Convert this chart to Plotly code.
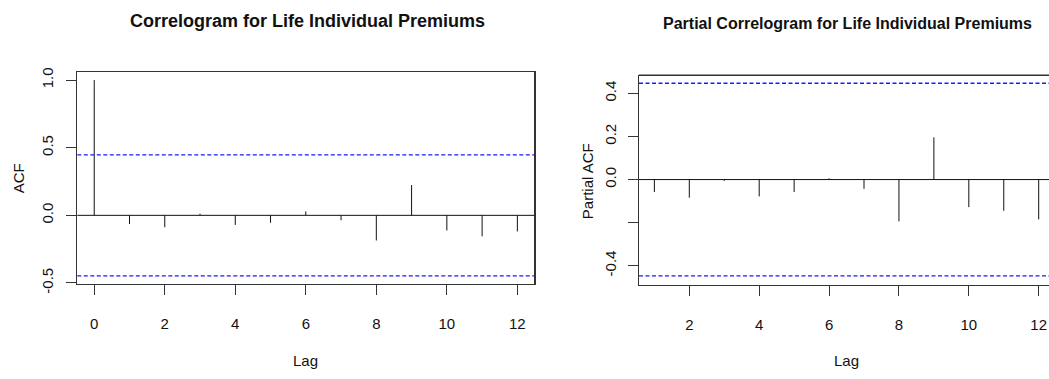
import plotly.graph_objects as go

# ---- data ----
acf_lags = [0, 1, 2, 3, 4, 5, 6, 7, 8, 9, 10, 11, 12]
acf_vals = [1.0, -0.064, -0.088, 0.012, -0.071, -0.055, 0.029, -0.036, -0.186, 0.224, -0.112, -0.155, -0.119]
pacf_lags = [1, 2, 3, 4, 5, 6, 7, 8, 9, 10, 11, 12]
pacf_vals = [-0.058, -0.084, -0.006, -0.078, -0.058, 0.006, -0.043, -0.194, 0.196, -0.128, -0.145, -0.185]
conf_limit = 0.447

x_ticks = [0, 2, 4, 6, 8, 10, 12]
acf_yticks = [-0.5, 0.0, 0.5, 1.0]
acf_yticklabels = ["-0.5", "0.0", "0.5", "1.0"]
pacf_yticks = [-0.4, -0.2, 0.0, 0.2, 0.4]
pacf_yticklabels = ["-0.4", "", "0.0", "0.2", "0.4"]

title_left = "Correlogram for Life Individual Premiums"
title_right = "Partial Correlogram for Life Individual Premiums"

FONT = "Liberation Sans Narrow, Arial Narrow, Liberation Sans, Arial, sans-serif"

W, H = 1049, 379


def px_x(x):
    return x / W


def px_y(y):
    return 1 - y / H


def spikes(lags, vals):
    xs, ys = [], []
    for l, v in zip(lags, vals):
        xs += [l, l, None]
        ys += [0, v, None]
    return xs, ys


fig = go.Figure()

xa, ya = spikes(acf_lags, acf_vals)
fig.add_trace(go.Scatter(x=xa, y=ya, mode="lines", line=dict(color="#111", width=1),
                         xaxis="x", yaxis="y", showlegend=False, hoverinfo="skip"))
xp, yp = spikes(pacf_lags, pacf_vals)
fig.add_trace(go.Scatter(x=xp, y=yp, mode="lines", line=dict(color="#111", width=1),
                         xaxis="x2", yaxis="y2", showlegend=False, hoverinfo="skip"))

axis_common = dict(showgrid=False, zeroline=False, ticks="outside", ticklen=10,
                   tickcolor="#333", tickwidth=1, linecolor="#333", linewidth=1.3,
                   showline=True, tickfont=dict(family=FONT, size=15, color="#111"))

fig.update_layout(
    width=W, height=H,
    margin=dict(l=0, r=0, t=0, b=0),
    paper_bgcolor="white", plot_bgcolor="white",
    hovermode=False,
    xaxis=dict(domain=[px_x(77.3), px_x(534.3)], range=[-0.48, 12.48], tickvals=x_ticks,
               mirror=True, anchor="y", ticklabelstandoff=16, **axis_common),
    yaxis=dict(domain=[px_y(290.5), px_y(70.7)], range=[-0.506, 1.059], tickvals=acf_yticks,
               ticktext=acf_yticklabels, tickangle=-90, mirror=True, anchor="x",
               ticklabelstandoff=7, **axis_common),
    xaxis2=dict(domain=[px_x(639), 1.0], range=[0.56, 12.295], tickvals=x_ticks[1:],
                mirror=False, anchor="y2", ticklabelstandoff=16, **axis_common),
    yaxis2=dict(domain=[px_y(291.7), px_y(74)], range=[-0.489, 0.484], tickvals=pacf_yticks,
                ticktext=pacf_yticklabels, tickangle=-90, mirror=False, anchor="x2",
                ticklabelstandoff=6, **axis_common),
)

shapes = []
# zero lines
shapes.append(dict(type="line", xref="x domain", yref="y", x0=0, x1=1, y0=0, y1=0,
                   line=dict(color="#111", width=1)))
shapes.append(dict(type="line", xref="x2 domain", yref="y2", x0=0, x1=1, y0=0, y1=0,
                   line=dict(color="#111", width=1)))
# confidence limits
for xr, yr in [("x domain", "y"), ("x2 domain", "y2")]:
    for c in (conf_limit, -conf_limit):
        shapes.append(dict(type="line", xref=xr, yref=yr, x0=0, x1=1, y0=c, y1=c,
                           line=dict(color="#1a1aff", width=1.3, dash="4px,2.5px")))
# top border of the right (cropped) panel
shapes.append(dict(type="line", xref="x2 domain", yref="y2 domain", x0=0, x1=1, y0=1, y1=1,
                   line=dict(color="#333", width=1.3)))
fig.update_layout(shapes=shapes)

annotations = [
    dict(text="<b>" + title_left + "</b>", x=307, y=18),
    dict(text="<b>" + title_right + "</b>", x=847, y=20.5, size=16),
    dict(text="Lag", x=305, y=370, size=15),
    dict(text="Lag", x=846, y=370, size=15),
    dict(text="ACF", x=18, y=181, size=15, angle=-90),
    dict(text="Partial ACF", x=587, y=184, size=15, angle=-90),
]
for a in annotations:
    fig.add_annotation(
        text=a["text"], xref="paper", yref="paper",
        x=px_x(a["x"]), y=px_y(a["y"]), xanchor="center", yanchor="middle",
        showarrow=False, textangle=a.get("angle", 0),
        font=dict(family=FONT, size=a.get("size", 18), color="#111"),
    )

# remove the default 8px page margin so the 1049x379 figure fills the window exactly
fig.write_html("out.html", config={"displayModeBar": False, "staticPlot": True},
               post_script="document.body.style.margin='0';")
